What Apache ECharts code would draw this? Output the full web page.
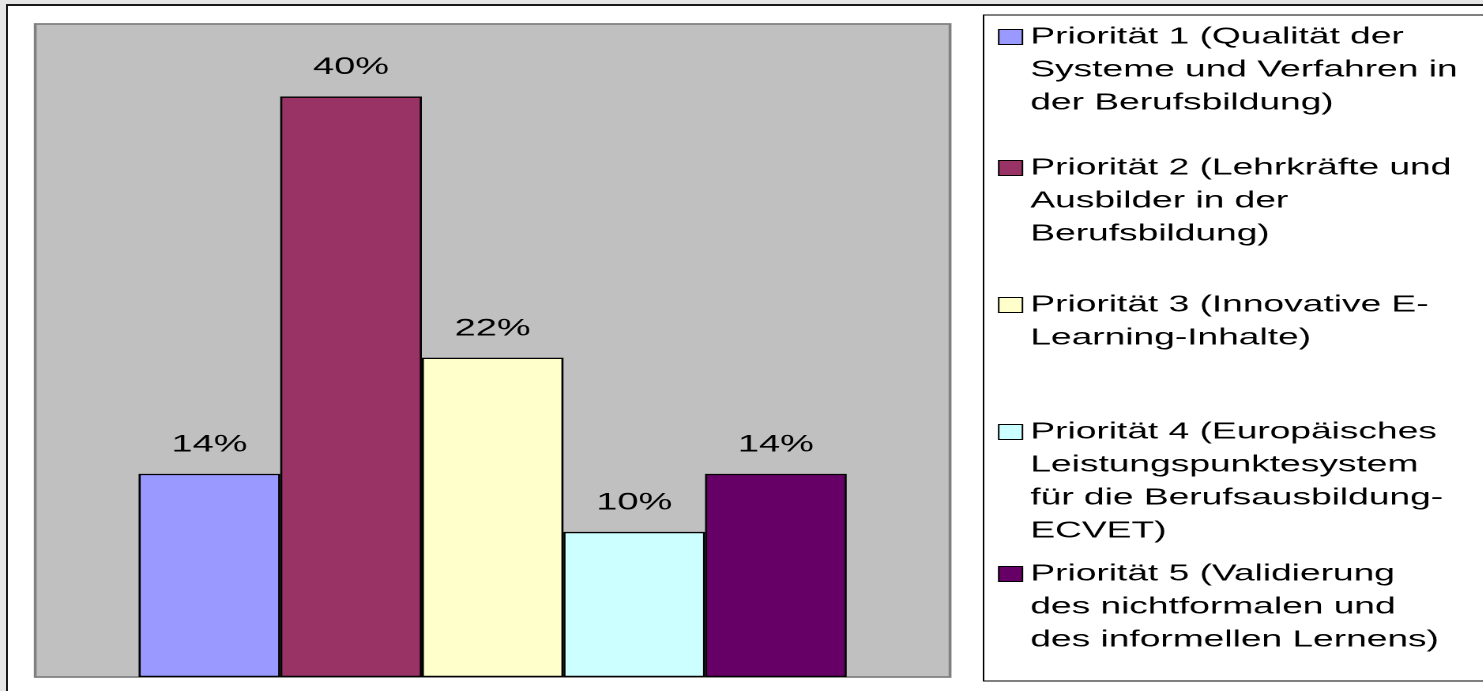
<!DOCTYPE html>
<html>
<head>
<meta charset="utf-8">
<script src="https://cdn.jsdelivr.net/npm/echarts@6/dist/echarts.min.js"></script>
<style>
  html, body { margin: 0; padding: 0; background: #e6e6e6; overflow: hidden; }
  #frame {
    position: absolute; left: 6px; top: 4px; width: 1500px; height: 710px;
    background: #fff; border: 2px solid #1a1a1a;
  }
  /* the reference picture is stretched sideways, so the chart is drawn narrow and scaled */
  #main {
    position: absolute; left: 0; top: 0; width: 939px; height: 691px;
    transform: scaleX(1.58); transform-origin: 0 0;
  }
</style>
</head>
<body>
<div id="frame"></div>
<div id="main"></div>
<script>
// data
const seriesNames = [
  'Priorität 1 (Qualität der Systeme und Verfahren in der Berufsbildung)',
  'Priorität 2 (Lehrkräfte und Ausbilder in der Berufsbildung)',
  'Priorität 3 (Innovative E-Learning-Inhalte)',
  'Priorität 4 (Europäisches Leistungspunktesystem für die Berufsausbildung-ECVET)',
  'Priorität 5 (Validierung des nichtformalen und des informellen Lernens)'
];
const legendLines = [
  ['Priorität 1 (Qualität der', 'Systeme und Verfahren in', 'der Berufsbildung)'],
  ['Priorität 2 (Lehrkräfte und', 'Ausbilder in der', 'Berufsbildung)'],
  ['Priorität 3 (Innovative E-', 'Learning-Inhalte)'],
  ['Priorität 4 (Europäisches', 'Leistungspunktesystem', 'für die Berufsausbildung-', 'ECVET)'],
  ['Priorität 5 (Validierung', 'des nichtformalen und', 'des informellen Lernens)']
];
const categories = [''];
const values = [14, 40, 22, 10, 14];
const colors = ['#9999ff', '#993366', '#ffffcc', '#ccffff', '#660066'];

// y of the first text line of each legend entry
const legendFirstLine = [37, 168, 305, 432, 574];
const lineH = 33;
const font = '"Liberation Sans", Arial, sans-serif';

var myChart = echarts.init(document.getElementById('main'), null, {
  width: 939,
  height: 691,
  devicePixelRatio: 2
});

const legends = seriesNames.map(function (name, i) {
  const n = legendLines[i].length;
  // blank lines in front keep the icon level with the first text line
  const text = new Array(n - 1).fill(' ').concat(legendLines[i]).join('\n');
  return {
    data: [name],
    orient: 'vertical',
    left: 631.6,
    top: legendFirstLine[i] - (2 * n - 1) * lineH / 2,
    padding: 0,
    icon: 'rect',
    itemWidth: 15,
    itemHeight: 15,
    selectedMode: false,
    itemStyle: { borderColor: '#000', borderWidth: 1 },
    formatter: function () { return text; },
    textStyle: {
      fontFamily: font,
      fontSize: 23.5,
      lineHeight: lineH,
      color: '#000'
    }
  };
});

const option = {
  animation: false,
  backgroundColor: 'transparent',
  graphic: [
    {
      type: 'rect',
      shape: { x: 622.5, y: 15, width: 330, height: 666 },
      style: { fill: '#fff', stroke: '#000', lineWidth: 1 },
      z: -1
    }
  ],
  legend: legends,
  grid: {
    show: true,
    left: 22.3,
    right: 337.7,
    top: 24,
    bottom: 14,
    backgroundColor: '#c0c0c0',
    borderColor: '#808080',
    borderWidth: 1.8
  },
  xAxis: {
    type: 'category',
    data: categories,
    show: false
  },
  yAxis: {
    type: 'value',
    min: 0,
    max: 45,
    show: false
  },
  series: seriesNames.map(function (name, i) {
    return {
      name: name,
      type: 'bar',
      data: [values[i]],
      barGap: '0%',
      barCategoryGap: '22.6%',
      itemStyle: { color: colors[i], borderColor: '#000', borderWidth: 1.3 },
      label: {
        show: true,
        position: 'top',
        distance: 17,
        formatter: '{c}%',
        fontFamily: font,
        fontSize: 24,
        color: '#000'
      }
    };
  })
};
myChart.setOption(option);
</script>
</body>
</html>
